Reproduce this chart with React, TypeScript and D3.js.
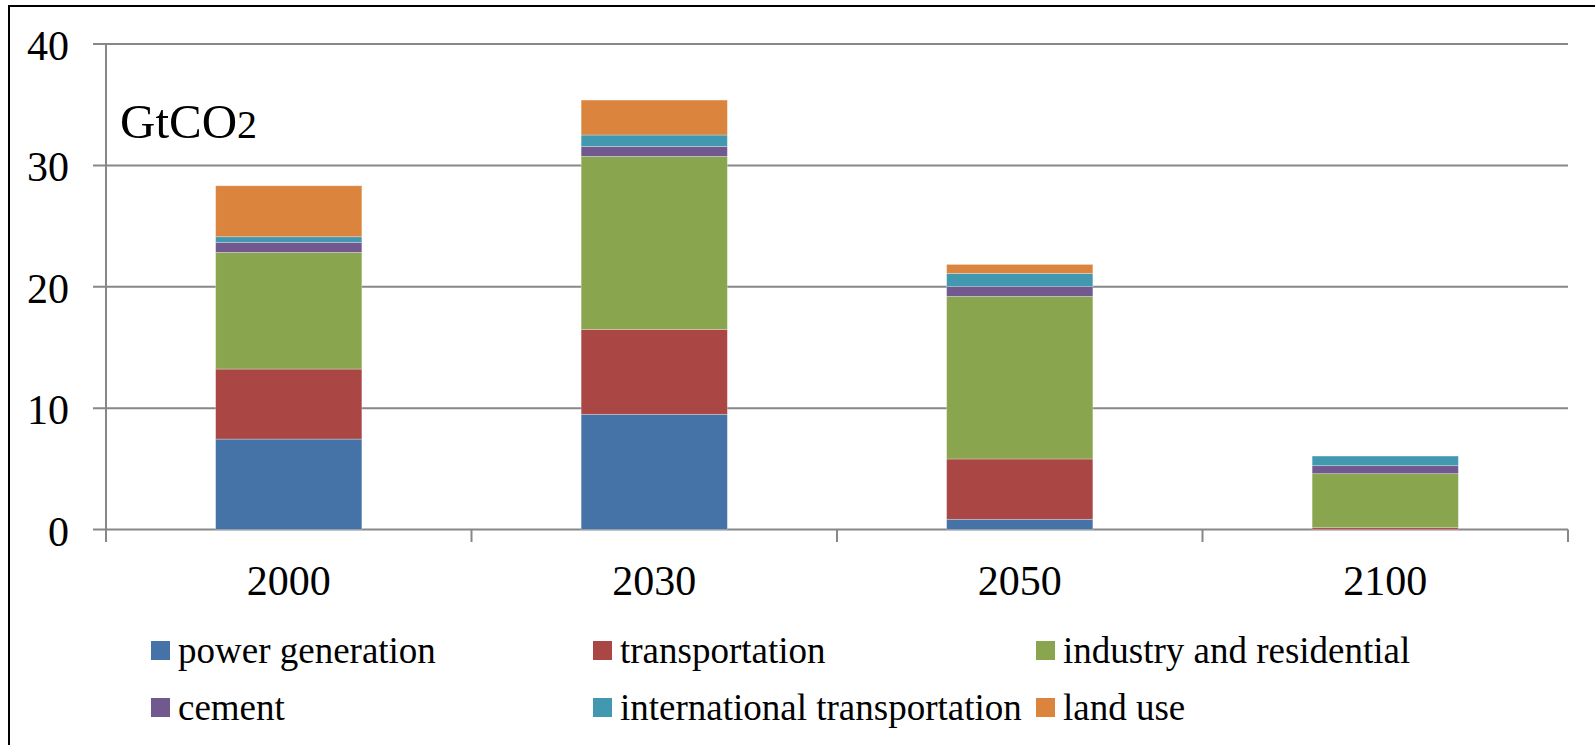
import React from "react";
import * as d3 from "d3";

// CO2 emissions by sector, GtCO2
const years = ["2000", "2030", "2050", "2100"];
const powerGeneration = [7.45, 9.49, 0.84, 0.0];
const transportation = [5.77, 7.0, 4.97, 0.15];
const industryResidential = [9.61, 14.25, 13.4, 4.45];
const cement = [0.83, 0.82, 0.82, 0.66];
const internationalTransportation = [0.46, 0.94, 1.07, 0.79];
const landUse = [4.2, 2.88, 0.74, 0.0];
const yTicks = [0, 10, 20, 30, 40];

const seriesNames = [
  "power generation",
  "transportation",
  "industry and residential",
  "cement",
  "international transportation",
  "land use",
];
const seriesValues = [
  powerGeneration,
  transportation,
  industryResidential,
  cement,
  internationalTransportation,
  landUse,
];
const colors = ["#4572A7", "#AA4643", "#89A54E", "#71588F", "#4198AF", "#DB843D"];

const W = 1595;
const H = 745;
const FONT = "'Liberation Serif', 'Times New Roman', serif";

export default function App() {
  const rows = years.map((yr, i) => {
    const r: Record<string, any> = { year: yr };
    seriesNames.forEach((n, s) => (r[n] = seriesValues[s][i]));
    return r;
  });
  const stacked = d3.stack<any>().keys(seriesNames)(rows);

  const x = d3
    .scaleBand<string>()
    .domain(years)
    .range([106, 1568])
    .paddingInner(0.6)
    .paddingOuter(0.3);
  const y = d3.scaleLinear().domain([0, 40]).range([529.5, 44]);

  const step = x.step();
  const bounds = d3.range(years.length + 1).map((i) => 106 + i * step);
  const gridColor = "#878787";

  const legendCols = [151, 593, 1036];
  const legendRows = [641, 698];

  return (
    <svg
      width={W}
      height={H}
      style={{ position: "absolute", left: 0, top: 0, background: "#fff" }}
      fontFamily={FONT}
    >
      <rect x={0} y={0} width={W} height={H} fill="#fff" />
      {/* frame: top and left edges */}
      <line x1={9} x2={W} y1={6} y2={6} stroke="#000" strokeWidth={2} />
      <line x1={9} x2={9} y1={5} y2={H} stroke="#000" strokeWidth={2} />

      {/* gridlines and y ticks */}
      {yTicks.map((t) => (
        <g key={t}>
          <line x1={93} x2={1568} y1={y(t)} y2={y(t)} stroke={gridColor} strokeWidth={2} />
          <text x={69} y={y(t) + 16} textAnchor="end" fontSize={42} fill="#000">
            {t}
          </text>
        </g>
      ))}
      {/* y axis */}
      <line x1={106} x2={106} y1={y(40)} y2={542} stroke={gridColor} strokeWidth={2} />
      {/* x ticks */}
      {bounds.map((b, i) => (
        <line key={i} x1={b} x2={b} y1={y(0)} y2={542} stroke={gridColor} strokeWidth={2} />
      ))}

      {/* stacked bars */}
      {stacked.map((layer, s) => (
        <g key={layer.key} fill={colors[s]}>
          {layer.map((d, i) => {
            const h = y(d[0]) - y(d[1]);
            if (h <= 0) return null;
            return (
              <rect
                key={i}
                x={x(years[i])}
                y={y(d[1])}
                width={x.bandwidth()}
                height={h}
                stroke="#ffffff"
                strokeOpacity={0.35}
                strokeWidth={0.8}
              />
            );
          })}
        </g>
      ))}

      {/* category labels */}
      {years.map((yr) => (
        <text
          key={yr}
          x={(x(yr) as number) + x.bandwidth() / 2}
          y={595}
          textAnchor="middle"
          fontSize={42}
          fill="#000"
        >
          {yr}
        </text>
      ))}

      {/* unit label */}
      <text x={120} y={138} fontSize={49} fill="#000">
        GtCO<tspan fontSize={40}>2</tspan>
      </text>

      {/* legend */}
      {seriesNames.map((n, s) => {
        const col = s % 3;
        const row = Math.floor(s / 3);
        const lx = legendCols[col];
        const ly = legendRows[row];
        return (
          <g key={n}>
            <rect x={lx} y={ly} width={19} height={19} fill={colors[s]} />
            <text x={lx + 27} y={ly + 22} fontSize={37} fill="#000">
              {n}
            </text>
          </g>
        );
      })}
    </svg>
  );
}
